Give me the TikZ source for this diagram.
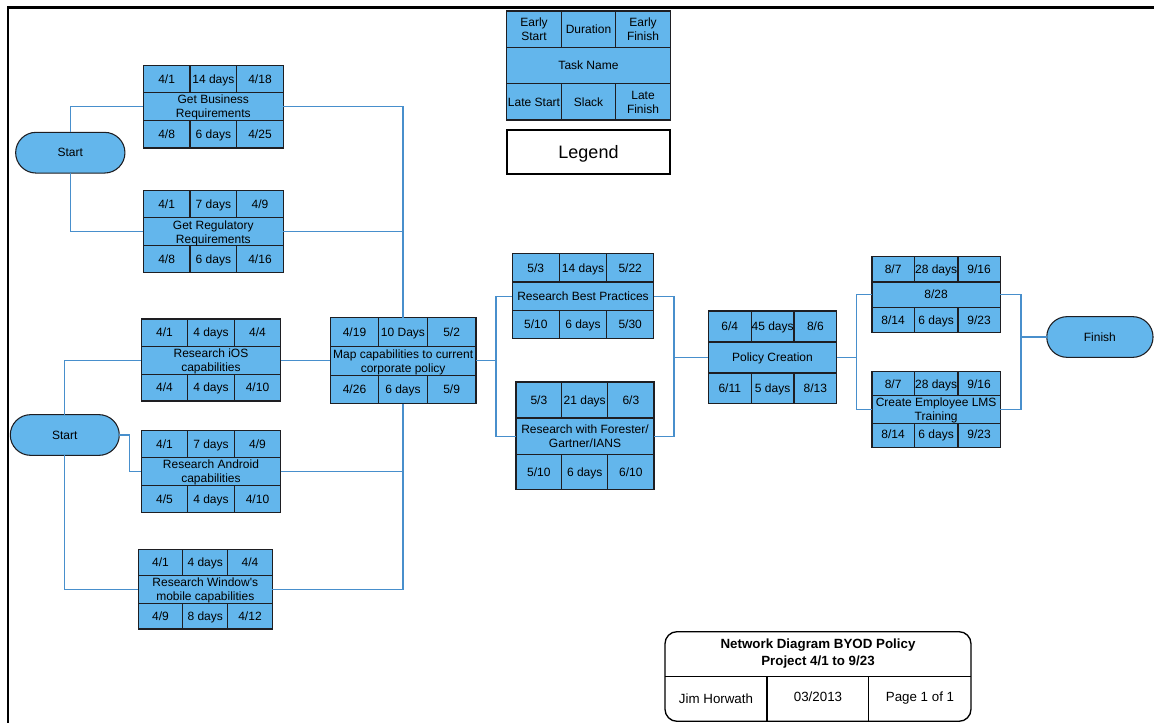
\documentclass[tikz,border=0pt]{standalone}
\usepackage{fontspec}
\setmainfont{Liberation Sans}
\usetikzlibrary{shapes.misc}

\definecolor{taskfill}{RGB}{99,182,236}
\definecolor{linkblue}{RGB}{72,143,204}
\definecolor{cellline}{RGB}{30,30,34}

\tikzset{
  cellbox/.style={draw=cellline, fill=taskfill, line width=0.8pt, inner sep=0pt,
    outer sep=0pt, align=center, font=\fontsize{9}{10.5}\selectfont},
  terminal/.style={rounded rectangle, draw=cellline, fill=taskfill, line width=0.8pt,
    inner sep=0pt, outer sep=0pt, font=\fontsize{9}{10.5}\selectfont},
  link/.style={draw=linkblue, line width=0.8pt},
  legendbox/.style={draw=black, fill=white, line width=1.3pt, inner sep=0pt,
    font=\fontsize{13.5}{15}\selectfont},
  blocktext/.style={inner sep=0pt, align=center, font=\fontsize{10}{12.75}\selectfont},
}

% invisible rule that gives every cell line the same height and depth
\newcommand\cellstrut{\rule[-2pt]{0pt}{10.4pt}}

% one cell of a task box: name, x0, y0, x1, y1 (pixels), text
\newcommand\pertcell[6]{%
  \pgfmathsetmacro\cellw{(#4-#2)*0.75}%
  \pgfmathsetmacro\cellh{(#5-#3)*0.75}%
  \node[cellbox, minimum width=\cellw pt, minimum height=\cellh pt]
    (#1) at ({(#2+#4)/2},{(#3+#5)/2}) {\cellstrut#6\cellstrut};}

% column edges x0 x1 x2 x3, row edges y0 y1 y2 y3
\newcommand\pertgeom[8]{%
  \def\gxa{#1}\def\gxb{#2}\def\gxc{#3}\def\gxd{#4}%
  \def\gya{#5}\def\gyb{#6}\def\gyc{#7}\def\gyd{#8}}

% task box: name, early start, duration, early finish, task, late start, slack, late finish
\newcommand\pertcells[8]{%
  \pertcell{#1-es}{\gxa}{\gya}{\gxb}{\gyb}{#2}
  \pertcell{#1-du}{\gxb}{\gya}{\gxc}{\gyb}{#3}
  \pertcell{#1-ef}{\gxc}{\gya}{\gxd}{\gyb}{#4}
  \pertcell{#1-ls}{\gxa}{\gyc}{\gxb}{\gyd}{#6}
  \pertcell{#1-sl}{\gxb}{\gyc}{\gxc}{\gyd}{#7}
  \pertcell{#1-lf}{\gxc}{\gyc}{\gxd}{\gyd}{#8}
  \pertcell{#1}{\gxa}{\gyb}{\gxd}{\gyc}{#5}}

\begin{document}
\begin{tikzpicture}[x=0.75pt, y=-0.75pt]
\useasboundingbox (0,0) rectangle (1154,723);

% page frame
\draw[line width=1.7pt] (8.3,723) -- (8.3,7.6) -- (1154,7.6);

% start / finish terminals
\node[terminal, minimum width=109.3*0.75pt, minimum height=40.7*0.75pt] (start1) at (70.3,152.7) {\cellstrut Start};
\node[terminal, minimum width=109*0.75pt, minimum height=40.7*0.75pt] (start2) at (64.8,435) {\cellstrut Start};
\node[terminal, minimum width=106.3*0.75pt, minimum height=40.7*0.75pt] (finish) at (1099.9,337) {\cellstrut Finish};

% task boxes
\pertgeom{143.3}{190}{236.7}{283.3}{65.3}{92.7}{120.7}{148}
\pertcells{biz}{4/1}{14 days}{4/18}{Get Business\\Requirements}{4/8}{6 days}{4/25}

\pertgeom{143.3}{190}{236.7}{283.3}{190.3}{218}{245.7}{272.7}
\pertcells{reg}{4/1}{7 days}{4/9}{Get Regulatory\\Requirements}{4/8}{6 days}{4/16}

\pertgeom{141.3}{187.7}{234.3}{280.7}{319}{346.3}{374}{401}
\pertcells{ios}{4/1}{4 days}{4/4}{Research iOS\\capabilities}{4/4}{4 days}{4/10}

\pertgeom{141.3}{187.7}{234.3}{280.7}{430.3}{457.7}{485.3}{512.7}
\pertcells{android}{4/1}{7 days}{4/9}{Research Android\\capabilities}{4/5}{4 days}{4/10}

\pertgeom{138.3}{182.7}{227.7}{272.3}{549.3}{576}{602.7}{629}
\pertcells{win}{4/1}{4 days}{4/4}{Research Window\textquotesingle s\\mobile capabilities}{4/9}{8 days}{4/12}

\pertgeom{330.3}{378.7}{427.3}{476}{317.7}{346.3}{375.3}{403.7}
\pertcells{map}{4/19}{10 Days}{5/2}{Map capabilities to current\\corporate policy}{4/26}{6 days}{5/9}

\pertgeom{512.3}{559.3}{606.7}{653.7}{253.7}{282}{310.3}{338.7}
\pertcells{rbp}{5/3}{14 days}{5/22}{Research Best Practices}{5/10}{6 days}{5/30}

\pertgeom{516}{561.7}{607.7}{654}{382}{418}{454.3}{489.7}
\pertcells{forr}{5/3}{21 days}{6/3}{Research with Forester/\\Gartner/IANS}{5/10}{6 days}{6/10}

\pertgeom{708.3}{751.3}{794}{836.7}{311}{342}{373}{403.7}
\pertcells{policy}{6/4}{45 days}{8/6}{Policy Creation}{6/11}{5 days}{8/13}

\pertgeom{872}{914.3}{958}{1000.3}{256.3}{282}{307.3}{332.3}
\pertcells{sept}{8/7}{28 days}{9/16}{8/28}{8/14}{6 days}{9/23}

\pertgeom{872}{914.3}{958}{1000.3}{371.3}{396.7}{422}{447.3}
\pertcells{lms}{8/7}{28 days}{9/16}{Create Employee LMS\\Training}{8/14}{6 days}{9/23}

% legend
\pertgeom{506.7}{561.3}{615.7}{670.3}{11}{47.3}{83.7}{120}
\pertcells{key}{Early\\Start}{Duration}{Early\\Finish}{Task Name}{Late Start}{Slack}{Late\\Finish}
\node[legendbox, minimum width=163.6*0.75pt, minimum height=44*0.75pt] (legend) at (588.5,152.3) {\rule[-3pt]{0pt}{15.6pt}Legend};

% junction points of the network
\coordinate (jmap) at (496,360.8);
\coordinate (jres) at (674,357.5);
\coordinate (jpol) at (856.7,357.5);
\coordinate (jend) at (1021,337);

% connectors
\draw[link] (start1.north) |- (biz.west);
\draw[link] (start1.south) |- (reg.west);
\draw[link] (biz.east) -| (map-du.north);
\draw[link] (reg.east) -| (map-du.north);

\draw[link] (start2.north) |- (ios.west);
\draw[link] (start2.east) -- ++(10,0) |- (android.west);
\draw[link] (start2.south) |- (win.west);
\draw[link] (ios.east) -- (ios.east -| map.west);
\draw[link] (android.east) -| (map-sl.south);
\draw[link] (win.east) -| (map-sl.south);

\draw[link] (map.east) -- (jmap);
\draw[link] (jmap) |- (rbp.west);
\draw[link] (jmap) |- (forr.west);
\draw[link] (rbp.east) -| (jres);
\draw[link] (forr.east) -| (jres);
\draw[link] (jres) -- (policy.west);

\draw[link] (policy.east) -- (jpol);
\draw[link] (jpol) |- (sept.west);
\draw[link] (jpol) |- (lms.west);
\draw[link] (sept.east) -| (jend);
\draw[link] (lms.east) -| (jend);
\draw[link] (jend) -- (finish.west);

% title block
\draw[line width=1pt, rounded corners=9pt] (665,631.7) rectangle (971,721.3);
\draw[line width=1pt] (665,676.7) -- (971,676.7);
\draw[line width=1pt] (767,676.7) -- (767,721.3);
\draw[line width=1pt] (868.7,676.7) -- (868.7,721.3);
\node[blocktext, font=\fontsize{10}{12.75}\selectfont\bfseries] (title) at (818,653.8)
  {Network Diagram BYOD Policy\\Project 4/1 to 9/23};
\node[blocktext] (author) at (716,698.5) {Jim Horwath};
\node[blocktext] (date) at (818,696.5) {03/2013};
\node[blocktext] (page) at (920,698.5) {Page 1 of 1};
\end{tikzpicture}
\end{document}
